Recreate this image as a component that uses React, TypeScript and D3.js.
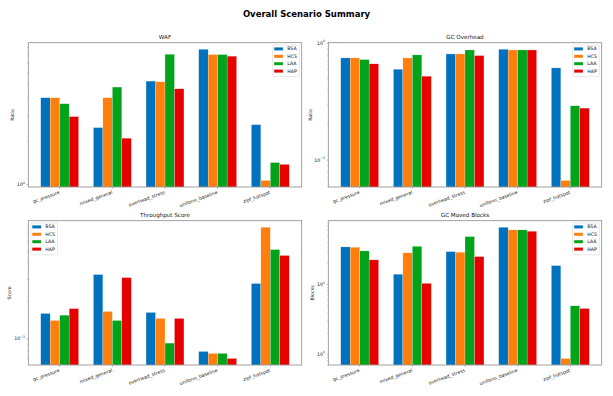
import React from 'react';
import * as d3 from 'd3';

const scenarios = ['gc_pressure', 'mixed_general', 'overhead_stress', 'uniform_baseline', 'zipf_hotspot'];
const policies = ['BSA', 'HCS', 'LAA', 'HAP'];
const colors = ['#0072bd', '#ff7f0e', '#00a31a', '#e60000'];

// WAF (ratio)
const wafBSA = [4.02, 2.49, 5.25, 8.75, 2.61];
const wafHCS = [4.02, 4.02, 5.19, 8.04, 1.066];
const wafLAA = [3.65, 4.77, 8.08, 8.04, 1.42];
const wafHAP = [2.97, 2.1, 4.64, 7.83, 1.38];

// GC overhead (ratio)
const ovhBSA = [0.75, 0.6, 0.811, 0.889, 0.616];
const ovhHCS = [0.75, 0.75, 0.811, 0.877, 0.0671];
const ovhLAA = [0.726, 0.796, 0.877, 0.877, 0.292];
const ovhHAP = [0.667, 0.523, 0.785, 0.877, 0.279];

// throughput score
const tputBSA = [0.16, 0.328, 0.163, 0.0794, 0.278];
const tputHCS = [0.1406, 0.166, 0.146, 0.0766, 0.784];
const tputLAA = [0.155, 0.1406, 0.0926, 0.0766, 0.52];
const tputHAP = [0.175, 0.31, 0.146, 0.0698, 0.466];

// GC moved blocks
const movedBSA = [34.7, 14.06, 29.7, 66.4, 18.7];
const movedHCS = [34.3, 28.5, 29.1, 60.9, 0.868];
const movedLAA = [30.4, 35.4, 48.8, 60.9, 4.95];
const movedHAP = [22.6, 10.4, 25.2, 58.2, 4.53];

const FONT = '"DejaVu Sans", sans-serif';

type Box = { x0: number; x1: number; y0: number; y1: number };

const expLabel = (v: number) => {
	const e = Math.round(Math.log10(v));
	return e < 0 ? '\u2212' + Math.abs(e) : String(e);
};

function Legend({ box, corner }: { box: Box; corner: 'tl' | 'tr' }) {
	const w = 26.7;
	const h = 31.7;
	const lx = corner === 'tr' ? box.x1 - 2.4 - w : box.x0 + 2.4;
	const ly = box.y0 + 2.3;
	return (
		<g>
			<rect x={lx} y={ly} width={w} height={h} rx={1} fill="white" fillOpacity={0.8} stroke="#d0d0d0" strokeWidth={0.5} />
			{policies.map((p, i) => {
				const cy = ly + 3.9 + i * 7.4;
				return (
					<g key={p}>
						<rect x={lx + 1.6} y={cy - 1.5} width={8.7} height={3} fill={colors[i]} />
						<text x={lx + 14.6} y={cy} dominantBaseline="central" fontSize={4.7} fill="#222">
							{p}
						</text>
					</g>
				);
			})}
		</g>
	);
}

function Panel({ title, ylabel, series, box, corner, labelGap }: {
	title: string;
	ylabel: string;
	series: number[][];
	box: Box;
	corner: 'tl' | 'tr';
	labelGap: number;
}) {
	const all = series.flat();
	const lo = d3.min(all) as number;
	const hi = d3.max(all) as number;
	const m = 10 ** (0.05 * Math.log10(hi / lo));
	const y = d3.scaleLog().domain([lo / m, hi * m]).range([box.y1, box.y0]);

	// bars are 0.18 wide, side by side around each scenario
	const bw = 0.18;
	const xmin = -2 * bw;
	const xmax = scenarios.length - 1 + 2 * bw;
	const xp = 0.05 * (xmax - xmin);
	const x = d3.scaleLinear().domain([xmin - xp, xmax + xp]).range([box.x0, box.x1]);

	const [d0, d1] = y.domain();
	const majors: number[] = [];
	const minors: number[] = [];
	for (let e = Math.floor(Math.log10(d0)); e <= Math.ceil(Math.log10(d1)); e++) {
		for (let k = 1; k < 10; k++) {
			const v = k * Math.pow(10, e);
			if (v >= d0 && v <= d1) (k === 1 ? majors : minors).push(v);
		}
	}

	const barW = x(bw) - x(0);

	return (
		<g>
			<text x={(box.x0 + box.x1) / 2} y={box.y0 - 3.3} textAnchor="middle" fontSize={5.6} fill="#111">
				{title}
			</text>
			{series.map((vals, pi) => (
				<g key={pi} fill={colors[pi]}>
					{vals.map((v, si) => (
						<rect
							key={si}
							x={x(si + (pi - 1.5) * bw - bw / 2)}
							y={y(v)}
							width={barW}
							height={box.y1 - y(v)}
							stroke="white"
							strokeOpacity={0.6}
							strokeWidth={0.4}
						/>
					))}
				</g>
			))}
			<rect x={box.x0} y={box.y0} width={box.x1 - box.x0} height={box.y1 - box.y0} fill="none" stroke="#8a8a8a" strokeWidth={0.8} />
			{minors.map((v) => (
				<line key={'mi' + v} x1={box.x0 - 1} x2={box.x0} y1={y(v)} y2={y(v)} stroke="#8a8a8a" strokeWidth={0.5} />
			))}
			{majors.map((v) => (
				<g key={'ma' + v}>
					<line x1={box.x0 - 1.7} x2={box.x0} y1={y(v)} y2={y(v)} stroke="#8a8a8a" strokeWidth={0.6} />
					<text x={box.x0 - 3.2} y={y(v)} textAnchor="end" dominantBaseline="central" fontSize={4.7} fill="#222">
						10
						<tspan dy={-1.8} fontSize={3.3}>
							{expLabel(v)}
						</tspan>
					</text>
				</g>
			))}
			{scenarios.map((s, i) => (
				<g key={s}>
					<line x1={x(i)} x2={x(i)} y1={box.y1} y2={box.y1 + 1.7} stroke="#8a8a8a" strokeWidth={0.6} />
					<text
						transform={`translate(${x(i) - 0.8},${box.y1 + 3.6}) rotate(-20)`}
						textAnchor="end"
						dominantBaseline="hanging"
						fontSize={4.7}
						fill="#222"
					>
						{s}
					</text>
				</g>
			))}
			<text
				transform={`translate(${box.x0 - labelGap},${(box.y0 + box.y1) / 2}) rotate(-90)`}
				textAnchor="middle"
				dominantBaseline="central"
				fontSize={4.7}
				fill="#222"
			>
				{ylabel}
			</text>
			<Legend box={box} corner={corner} />
		</g>
	);
}

export default function App() {
	const top = { y0: 42.7, y1: 187 };
	const bot = { y0: 220.7, y1: 365 };
	const left = { x0: 28.3, x1: 301.7 };
	const right = { x0: 328.3, x1: 601.7 };
	return (
		<svg
			width={613}
			height={396}
			style={{ position: 'absolute', left: 0, top: 0, background: 'white', fontFamily: FONT }}
		>
			<rect width={613} height={396} fill="white" />
			<text x={306.5} y={17} textAnchor="middle" fontSize={8.5} fontWeight="bold" fill="#000">
				Overall Scenario Summary
			</text>
			<Panel
				title="WAF"
				ylabel="Ratio"
				series={[wafBSA, wafHCS, wafLAA, wafHAP]}
				box={{ ...left, ...top }}
				corner="tr"
				labelGap={15.6}
			/>
			<Panel
				title="GC Overhead"
				ylabel="Ratio"
				series={[ovhBSA, ovhHCS, ovhLAA, ovhHAP]}
				box={{ ...right, ...top }}
				corner="tr"
				labelGap={17.6}
			/>
			<Panel
				title="Throughput Score"
				ylabel="Score"
				series={[tputBSA, tputHCS, tputLAA, tputHAP]}
				box={{ ...left, ...bot }}
				corner="tl"
				labelGap={19.3}
			/>
			<Panel
				title="GC Moved Blocks"
				ylabel="Blocks"
				series={[movedBSA, movedHCS, movedLAA, movedHAP]}
				box={{ ...right, ...bot }}
				corner="tr"
				labelGap={16.3}
			/>
		</svg>
	);
}
